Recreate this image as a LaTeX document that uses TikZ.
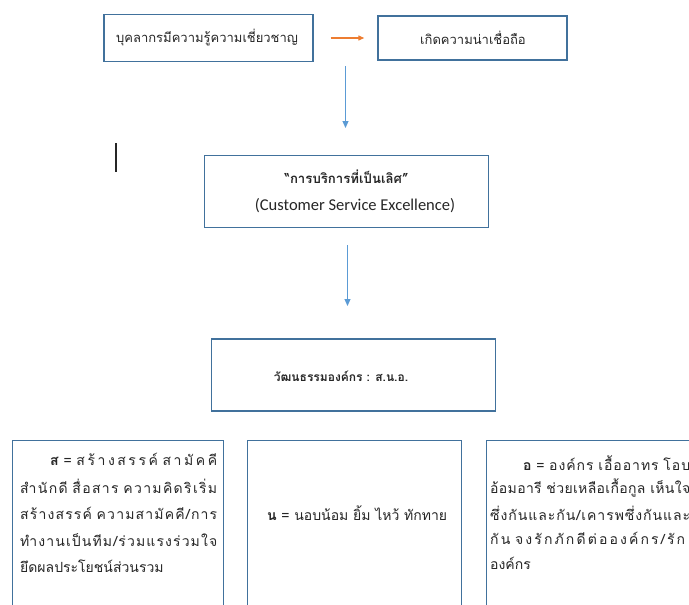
\documentclass[tikz,border=0pt]{standalone}
\usepackage{fontspec}
\setmainfont[Script=Thai]{Loma}
\newfontfamily\lat{Carlito}
\usetikzlibrary{arrows.meta}
\definecolor{boxc}{HTML}{41719C}
\definecolor{arrb}{HTML}{5B9BD5}
\definecolor{arro}{HTML}{ED7D31}
\newcommand\jg{\hskip 0pt plus 1fil\relax}
\tikzset{
  box/.style={draw=boxc, line width=1.4pt, fill=white, inner sep=0pt},
  blu/.style={draw=arrb, line width=0.9pt, -{Triangle[length=7pt,width=6pt]}},
  org/.style={draw=arro, line width=1.2pt, -{Triangle[length=6pt,width=5pt]}},
  txt/.style={font=\fontsize{13}{15}\selectfont, text=black!85, inner sep=0pt},
  ln/.style={font=\fontsize{14}{16}\selectfont, text=black!85, inner sep=0pt, anchor=west},
}
\begin{document}
\begin{tikzpicture}[x=1pt,y=-1pt]
\useasboundingbox (0,0) rectangle (689,605);
\clip (0,0) rectangle (689,605);
% top row
\node[box, minimum width=209pt, minimum height=47pt] (b1) at (208.5,38) {};
\node[txt] (t1) at (207,38) {บุคลากรมีความรู้ความเชี่ยวชาญ};
\node[box, minimum width=189pt, minimum height=44pt] (b2) at (472.5,38) {};
\node[txt] (t2) at (473,38) {เกิดความน่าเชื่อถือ};
\draw[org, shorten <=17pt, shorten >=13pt] (b1) -- (b2);
% cursor
\coordinate (c1) at (116,143); \coordinate (c2) at (116,172);
\draw[line width=1.1pt, black!85] (c1) -- (c2);
% arrow 1
\coordinate (a1s) at (345.5,66); \coordinate (a1e) at (345.5,128);
\draw[blu] (a1s) -- (a1e);
% box 3
\node[box, minimum width=284pt, minimum height=72pt] (b3) at (346.5,191.5) {};
\node[txt, font=\fontsize{13.2}{15}\selectfont\bfseries] (t3a) at (346.5,177) {“การบริการที่เป็นเลิศ”};
\node[txt, font=\fontsize{16.5}{18}\selectfont\lat] (t3b) at (355,206) {(Customer Service Excellence)};
% arrow 2
\coordinate (a2s) at (347.5,245); \coordinate (a2e) at (347.5,306);
\draw[blu] (a2s) -- (a2e);
% box 4
\node[box, minimum width=284pt, minimum height=72pt] (b4) at (353.5,375) {};
\node[txt, font=\fontsize{12}{13}\selectfont\bfseries] (t4) at (341,376) {วัฒนธรรมองค์กร : ส.น.อ.};
% bottom boxes
\node[box, minimum width=211pt, minimum height=220pt, anchor=north west] (b5) at (12,440) {};
\node[ln] (l51) at (50,459) {\makebox[167pt][s]{\textbf{ส} = ส\jg ร้\jg า\jg ง\jg ส\jg ร\jg ร\jg ค์ ส\jg า\jg มั\jg ค\jg คี}};
\node[ln] (l52) at (20,486) {\makebox[197pt][s]{สำ\jg นั\jg ก\jg ดี สื่\jg อ\jg ส\jg า\jg ร ค\jg ว\jg า\jg ม\jg คิ\jg ด\jg ริ\jg เ\jg ริ่\jg ม}};
\node[ln] (l53) at (20,513) {\makebox[197pt][s]{ส\jg ร้\jg า\jg ง\jg ส\jg ร\jg ร\jg ค์ ค\jg ว\jg า\jg ม\jg ส\jg า\jg มั\jg ค\jg คี\jg /\jg ก\jg า\jg ร}};
\node[ln] (l54) at (20,540) {\makebox[197pt][s]{ทำ\jg ง\jg า\jg น\jg เ\jg ป็\jg น\jg ที\jg ม\jg /\jg ร่\jg ว\jg ม\jg แ\jg ร\jg ง\jg ร่\jg ว\jg ม\jg ใ\jg จ}};
\node[ln] (l55) at (20,566) {ยึดผลประโยชน์ส่วนรวม};
\node[box, minimum width=214pt, minimum height=220pt, anchor=north west] (b6) at (247,440) {};
\node[ln] (l61) at (267,513) {\textbf{น} = นอบน้อม ยิ้ม ไหว้ ทักทาย};
\node[box, minimum width=260pt, minimum height=220pt, anchor=north west] (b7) at (486,440) {};
\node[ln] (l71) at (523,463) {\makebox[167pt][s]{\textbf{อ} = อ\jg ง\jg ค์\jg ก\jg ร เ\jg อื้\jg อ\jg อ\jg า\jg ท\jg ร โ\jg อ\jg บ}};
\node[ln] (l72) at (490,488) {\makebox[200pt][s]{อ้\jg อ\jg ม\jg อ\jg า\jg รี ช่\jg ว\jg ย\jg เ\jg ห\jg ลื\jg อ\jg เ\jg กื้\jg อ\jg กู\jg ล เ\jg ห็\jg น\jg ใ\jg จ}};
\node[ln] (l73) at (490,513) {\makebox[200pt][s]{ซึ่\jg ง\jg กั\jg น\jg แ\jg ล\jg ะ\jg กั\jg น\jg /\jg เ\jg ค\jg า\jg ร\jg พ\jg ซึ่\jg ง\jg กั\jg น\jg แ\jg ล\jg ะ}};
\node[ln] (l74) at (490,538) {\makebox[195pt][s]{กั\jg น จ\jg ง\jg รั\jg ก\jg ภั\jg ก\jg ดี\jg ต่\jg อ\jg อ\jg ง\jg ค์\jg ก\jg ร\jg /\jg รั\jg ก}};
\node[ln] (l75) at (490,563) {องค์กร};
\end{tikzpicture}
\end{document}
